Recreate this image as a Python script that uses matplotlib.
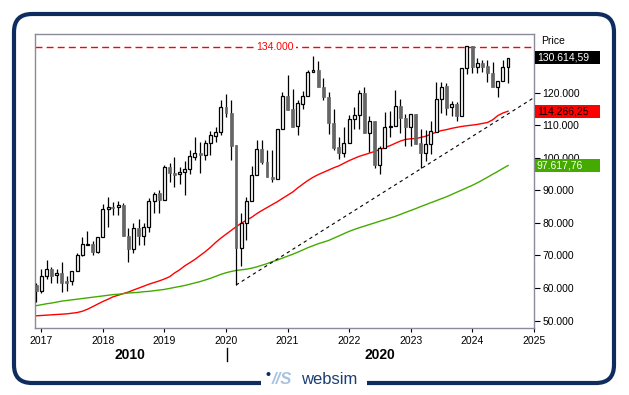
import numpy as np
import pandas as pd
import matplotlib
matplotlib.use('Agg')
import matplotlib.pyplot as plt
import matplotlib.dates as mdates
from matplotlib.patches import Rectangle, FancyBboxPatch, Circle
from matplotlib.lines import Line2D
from matplotlib.transforms import blended_transform_factory, IdentityTransform

plt.rcParams['font.family'] = ['Liberation Sans', 'DejaVu Sans']

# monthly candles, Dec 2016 .. Aug 2024 (values in thousands)
opens = [60.96, 59.2, 63.7, 65.9, 63.9, 64.6, 62.2, 62.1, 65.1, 70.0, 73.2, 73.5, 71.0, 75.6,
         84.2, 84.8, 84.8, 85.5, 76.0, 71.9, 78.3, 76.0, 78.8, 86.8, 89.1, 87.0, 97.0, 95.2,
         94.9, 95.7, 96.4, 100.3, 101.3, 100.7, 104.4, 106.8, 107.8, 115.4, 113.8, 103.9, 72.2,
         79.9, 86.8, 94.7, 102.6, 98.8, 94.2, 93.4, 108.7, 118.9, 114.8, 109.7, 116.5, 118.9,
         126.2, 126.9, 121.6, 118.5, 110.5, 103.2, 101.5, 104.4, 111.8, 113.0, 119.7, 107.5,
         111.4, 97.8, 102.9, 109.3, 109.7, 115.9, 112.1, 109.3, 113.4, 104.4, 101.3, 104.2,
         108.0, 117.9, 122.0, 115.4, 116.5, 112.8, 127.4, 134.3, 127.7, 128.9, 128.1, 125.9,
         121.8, 123.6, 127.7]
highs = [61.5, 65.8, 68.6, 66.6, 65.9, 68.0, 63.7, 65.1, 70.7, 75.8, 77.5, 74.5, 75.6, 85.9,
         87.8, 86.5, 86.8, 86.0, 78.3, 79.9, 81.1, 79.9, 87.5, 89.6, 90.1, 97.8, 98.3, 100.1,
         97.2, 99.1, 102.4, 106.2, 104.9, 105.4, 108.3, 109.5, 117.7, 119.5, 117.7, 103.9, 82.9,
         88.0, 97.5, 105.4, 105.4, 102.4, 102.4, 108.7, 120.3, 125.4, 121.0, 117.7, 120.6, 126.9,
         131.2, 129.8, 124.3, 120.3, 114.8, 106.4, 109.3, 113.1, 115.6, 120.8, 121.8, 112.8,
         111.4, 103.6, 114.1, 114.4, 120.8, 117.9, 113.4, 113.4, 113.4, 108.7, 108.5, 111.4,
         123.3, 123.3, 122.8, 117.5, 117.2, 127.4, 134.3, 134.3, 130.5, 130.0, 130.0, 129.5,
         123.6, 130.0, 130.5]
lows = [55.6, 58.4, 62.7, 61.5, 61.5, 58.9, 59.2, 60.9, 65.1, 69.9, 73.2, 70.0, 70.7, 75.6,
        78.8, 82.4, 82.4, 76.0, 68.1, 70.9, 73.2, 73.2, 77.3, 83.1, 83.1, 87.0, 92.6, 90.9,
        91.8, 88.6, 95.0, 99.3, 95.2, 99.3, 100.7, 104.9, 107.0, 112.6, 99.3, 60.95, 66.8,
        74.8, 86.8, 94.7, 98.1, 94.0, 92.6, 93.4, 108.7, 114.6, 109.5, 107.0, 114.8, 118.9,
        126.2, 121.6, 117.7, 107.3, 102.4, 99.5, 100.3, 104.4, 108.7, 108.7, 107.5, 101.8,
        96.7, 95.0, 102.9, 106.5, 109.7, 107.5, 103.6, 103.6, 104.2, 96.7, 99.1, 101.1,
        108.0, 113.8, 113.1, 112.8, 111.4, 112.8, 125.7, 125.9, 125.9, 126.4, 123.3, 121.8,
        118.5, 123.6, 123.0]
closes = [59.2, 63.7, 65.9, 63.7, 64.6, 61.7, 61.7, 65.1, 70.1, 73.4, 73.5, 71.2, 75.6, 84.2,
          84.8, 84.7, 85.5, 76.0, 71.9, 78.3, 76.0, 78.8, 86.8, 88.9, 87.0, 97.2, 95.2, 94.7,
          95.7, 96.4, 100.5, 101.3, 100.7, 104.4, 107.0, 107.8, 115.4, 113.6, 103.7, 72.2, 79.9,
          86.8, 94.7, 102.6, 98.8, 94.0, 93.4, 108.7, 118.9, 114.6, 109.5, 116.7, 118.9, 126.2,
          126.9, 121.6, 118.5, 110.5, 102.9, 101.5, 104.4, 111.8, 113.0, 119.7, 107.5, 111.4,
          97.8, 102.9, 109.3, 109.7, 115.9, 112.1, 109.3, 113.4, 104.2, 101.3, 104.2, 108.3,
          117.9, 121.8, 115.1, 116.5, 112.8, 127.4, 134.3, 127.7, 128.9, 127.9, 125.9, 121.8,
          123.6, 127.7, 130.61459]

ma_red = [51.5, 51.6, 51.7, 51.8, 51.9, 52.0, 52.1, 52.3, 52.5, 52.9, 53.5, 54.3, 55.1, 55.9,
          56.6, 57.3, 57.8, 58.3, 58.8, 59.4, 60.0, 60.6, 61.2, 61.7, 62.2, 62.8, 63.5, 64.6,
          65.6, 66.8, 67.8, 68.8, 70.0, 71.2, 72.5, 74.0, 75.3, 76.5, 77.7, 78.8, 79.9, 80.8,
          81.7, 82.8, 83.8, 84.7, 85.6, 86.5, 87.5, 88.5, 89.5, 90.7, 91.9, 93.0, 94.0, 94.8,
          95.5, 96.2, 96.9, 97.5, 98.3, 99.1, 99.8, 100.4, 100.9, 101.4, 101.9, 102.5, 103.1,
          103.7, 104.4, 105.1, 105.6, 105.8, 105.9, 106.2, 106.6, 107.2, 107.8, 108.3, 108.6,
          109.0, 109.3, 109.6, 109.8, 110.0, 110.2, 110.5, 110.8, 111.6, 112.9, 113.7, 114.26625]
ma_green = [54.6, 54.9, 55.2, 55.4, 55.7, 56.0, 56.2, 56.4, 56.6, 56.8, 57.0, 57.2, 57.4, 57.6,
            57.8, 58.0, 58.1, 58.3, 58.5, 58.6, 58.7, 58.9, 59.0, 59.2, 59.4, 59.6, 59.9, 60.2,
            60.5, 60.8, 61.2, 61.6, 62.0, 62.5, 63.0, 63.6, 64.2, 64.7, 65.1, 65.4, 65.6, 65.8,
            66.1, 66.5, 67.0, 67.5, 68.1, 68.6, 69.2, 69.8, 70.4, 71.0, 71.7, 72.4, 73.0, 73.6,
            74.1, 74.6, 75.3, 76.0, 76.7, 77.4, 78.0, 78.5, 79.0, 79.5, 80.0, 80.5, 81.0, 81.5,
            82.0, 82.6, 83.2, 83.8, 84.4, 85.0, 85.6, 86.2, 86.8, 87.4, 88.0, 88.7, 89.4, 90.1,
            90.8, 91.5, 92.3, 93.1, 94.0, 94.9, 95.8, 96.7, 97.61776]

trend_dates = ['2020-03-01', '2025-01-01']
trend_values = [60.95, 118.4]
resistance = 134.0

dates = pd.date_range('2016-12-01', periods=len(opens), freq='MS')
x = mdates.date2num(dates)
o = np.array(opens) * 1000
h = np.array(highs) * 1000
l = np.array(lows) * 1000
c = np.array(closes) * 1000

W, H = 629, 395
fig = plt.figure(figsize=(W / 100, H / 100), dpi=100)
ax = fig.add_axes([35 / W, 1 - 328 / H, (534 - 35) / W, (328 - 34) / H])

# candles
ax.vlines(x, l, h, color='black', lw=0.9, zorder=3)
up = c >= o
bottom = np.minimum(o, c)
height = np.maximum(np.abs(c - o), 300)
ax.bar(x[up], height[up], bottom=bottom[up], width=17, color='white',
       edgecolor='black', lw=0.9, zorder=4)
ax.bar(x[~up], height[~up], bottom=bottom[~up], width=17, color='#666666',
       edgecolor='#666666', lw=0.5, zorder=4)

ax.plot(x, np.array(ma_red) * 1000, color='#ff0000', lw=1, zorder=2)
ax.plot(x, np.array(ma_green) * 1000, color='#44aa00', lw=1, zorder=2)
ax.plot(mdates.date2num(pd.to_datetime(trend_dates)), np.array(trend_values) * 1000,
        color='black', lw=0.8, ls=(0, (3, 3)), zorder=2)

ax.axhline(resistance * 1000, color='#ff0000', lw=1, ls=(0, (5, 3)), zorder=2)
ax.text(mdates.date2num(pd.Timestamp('2020-10-20')), resistance * 1000, '134.000',
        color='#ff0000', fontsize=7.5, ha='center', va='center', zorder=5,
        bbox=dict(facecolor='white', edgecolor='none', pad=1.5))

ax.set_xlim(mdates.date2num(pd.Timestamp('2016-11-24')), mdates.date2num(pd.Timestamp('2025-01-02')))
ax.set_ylim(47760, 137945)

years = pd.date_range('2017-01-01', '2025-01-01', freq='YS')
ax.set_xticks(mdates.date2num(years))
ax.set_xticklabels([str(d.year) for d in years])
ax.tick_params(axis='x', length=3, width=0.8, pad=3, labelsize=7.5)

ax.yaxis.tick_right()
yt = np.arange(50000, 120001, 10000)
ax.set_yticks(yt)
ax.set_yticklabels([f'{v:,.0f}'.replace(',', '.') for v in yt])
ax.tick_params(axis='y', length=4, width=0.8, pad=2, labelsize=7.5)

for s in ax.spines.values():
    s.set_color('#8a8a9a')
    s.set_linewidth(1)

fig.text(541 / W, 1 - 41 / H, 'Price', fontsize=7.5, va='center')

# value boxes on the price scale
tr = blended_transform_factory(ax.transAxes, ax.transData)
boxes = [(closes[-1], '130.614,59', 'black', 'white'),
         (ma_red[-1], '114.266,25', '#ff0000', 'black'),
         (ma_green[-1], '97.617,76', '#44aa00', 'white')]
for val, txt, bg, fg in boxes:
    ax.add_patch(Rectangle((1.002, val * 1000 - 2000), 0.13, 4000, transform=tr,
                           facecolor=bg, edgecolor='none', clip_on=False, zorder=6))
    ax.text(1.006, val * 1000, txt, transform=tr, color=fg, fontsize=7.5,
            va='center', ha='left', clip_on=False, zorder=7)

# decade labels
fig.text(130 / W, 1 - 355 / H, '2010', fontsize=10, fontweight='bold', ha='center', va='center')
fig.text(380 / W, 1 - 355 / H, '2020', fontsize=10, fontweight='bold', ha='center', va='center')
fig.add_artist(Line2D([226.5, 226.5], [H - 348, H - 361], transform=IdentityTransform(),
                      color='black', lw=1))

# outer frame and logo
fig.add_artist(FancyBboxPatch((14, H - 383), 600, 369, boxstyle='round,pad=0,rounding_size=18',
                              transform=IdentityTransform(), fill=False,
                              edgecolor='#0e2d5e', lw=3))
fig.add_artist(Rectangle((261, H - 392), 106, 18, transform=IdentityTransform(),
                         facecolor='white', edgecolor='none', zorder=5))
fig.add_artist(Circle((268.5, H - 374), 2, transform=IdentityTransform(),
                      facecolor='#0e2d5e', edgecolor='none', zorder=6))
fig.text(272 / W, 1 - 380 / H, '//S', color='#a9c3df', fontsize=12, fontweight='bold',
         style='italic', va='center', zorder=6)
fig.text(301 / W, 1 - 380 / H, 'websim', color='#1c3f74', fontsize=12, va='center', zorder=6)

fig.savefig('out.png', dpi=100)
